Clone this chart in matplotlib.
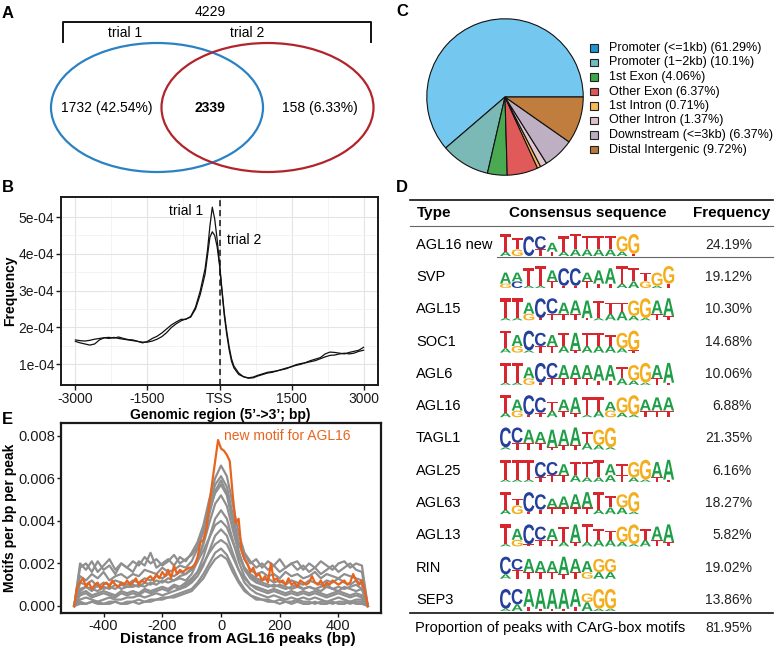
import numpy as np
import matplotlib
matplotlib.use('Agg')
import matplotlib.pyplot as plt
from matplotlib.patches import Ellipse, Rectangle, PathPatch
from matplotlib.textpath import TextPath
from matplotlib.font_manager import FontProperties
from matplotlib.transforms import Affine2D

plt.rcParams['font.family'] = ['Liberation Sans', 'DejaVu Sans']

# ---------------- data ----------------
# A: venn
venn_total = '4229'
venn_sets = ['trial 1', 'trial 2']
venn_counts = ['1732 (42.54%)', '2339', '158 (6.33%)']

# B: peak frequency around TSS (unit 1e-4)
tss_bp = list(range(-3000, -399, 100)) + list(range(-300, 301, 50)) + list(range(400, 3001, 100))
trial1 = [1.62, 1.58, 1.55, 1.52, 1.55, 1.66, 1.72, 1.73, 1.71, 1.74, 1.70, 1.67, 1.66, 1.62,
          1.58, 1.62, 1.70, 1.76, 1.85, 1.96, 2.07, 2.15, 2.22, 2.22, 2.30, 2.55, 3.00,
          3.60, 4.10, 4.75, 5.27, 4.95, 4.40, 3.75, 3.05, 2.40, 1.90, 1.48, 1.15, 0.95,
          0.76, 0.66, 0.62, 0.63, 0.68, 0.72, 0.76, 0.78, 0.82, 0.85, 0.88, 0.94, 0.97, 1.00,
          1.05, 1.10, 1.14, 1.18, 1.28, 1.33, 1.32, 1.30, 1.28, 1.32, 1.35, 1.38, 1.46]
trial2 = [1.66, 1.64, 1.63, 1.65, 1.68, 1.70, 1.72, 1.70, 1.73, 1.70, 1.68, 1.66, 1.64, 1.62,
          1.60, 1.60, 1.63, 1.68, 1.75, 1.86, 2.00, 2.10, 2.18, 2.23, 2.28, 2.50, 2.90,
          3.45, 3.95, 4.45, 4.60, 4.50, 4.20, 3.70, 3.00, 2.32, 1.82, 1.40, 1.08, 0.90,
          0.72, 0.66, 0.63, 0.65, 0.70, 0.74, 0.78, 0.80, 0.82, 0.86, 0.90, 0.93, 0.99, 1.02,
          1.04, 1.07, 1.10, 1.15, 1.20, 1.24, 1.25, 1.28, 1.30, 1.28, 1.30, 1.35, 1.38]

# C: genomic annotation
pie_labels = ['Promoter (<=1kb) (61.29%)', 'Promoter (1\u22122kb) (10.1%)', '1st Exon (4.06%)',
              'Other Exon (6.37%)', '1st Intron (0.71%)', 'Other Intron (1.37%)',
              'Downstream (<=3kb) (6.37%)', 'Distal Intergenic (9.72%)']
pie_vals = [61.29, 10.1, 4.06, 6.37, 0.71, 1.37, 6.37, 9.72]
pie_colors = ['#74c8ef', '#7ab9b6', '#4aaa52', '#e05a5a', '#f5b84e', '#e2c6d0', '#beb0c2', '#c07d3e']
legend_colors = ['#1f93d3', '#73bcbc', '#3ea64a', '#e25656', '#f5ba58', '#dcc1cb', '#b9adbf', '#b8773b']

# D: motif table
motif_names = ['AGL16 new', 'SVP', 'AGL15', 'SOC1', 'AGL6', 'AGL16', 'TAGL1',
               'AGL25', 'AGL63', 'AGL13', 'RIN', 'SEP3']
motif_freq = ['24.19%', '19.12%', '10.30%', '14.68%', '10.06%', '6.88%', '21.35%',
              '6.16%', '18.27%', '5.82%', '19.02%', '13.86%']
carg_total = '81.95%'
logo_top = ['TTCCATTTTTGG', 'AATTACCAAATTTGG', 'TTACCAAATTTGGAA', 'TACCATATTTGG',
            'TTACCAAAAATGGAA', 'TACCTAATTAGGAAA', 'CCAAAAATGG', 'TTTCCATTTATGGAA',
            'TTCCAAAATTGG', 'TACCATATTTGGTAA', 'CCAAAAAAGG', 'CCAAAAAGGG']
logo_top_h = [[8, 5, 9, 6, 4, 7, 7, 6, 6, 6, 7, 9],
              [5, 4, 8, 9, 5, 8, 8, 4, 6, 7, 8, 6, 4, 6, 8],
              [9, 9, 5, 9, 7, 5, 6, 8, 8, 5, 4, 7, 9, 6, 8],
              [8, 5, 9, 6, 5, 6, 8, 6, 6, 5, 7, 9],
              [9, 9, 5, 9, 7, 6, 6, 6, 7, 7, 5, 7, 9, 6, 9],
              [8, 5, 9, 7, 4, 5, 7, 8, 6, 4, 7, 9, 5, 6, 6],
              [9, 7, 6, 5, 8, 7, 8, 5, 7, 9],
              [9, 9, 9, 7, 6, 5, 6, 7, 8, 5, 5, 7, 9, 7, 9],
              [8, 3, 9, 7, 4, 5, 6, 7, 8, 5, 6, 9],
              [9, 5, 9, 6, 5, 7, 8, 8, 5, 4, 7, 9, 5, 6, 8],
              [8, 5, 6, 5, 5, 8, 6, 5, 6, 6],
              [9, 7, 8, 9, 9, 9, 8, 4, 9, 9]]
logo_low = ['AG.TTAAAAAAT', 'GCAATTTTTTAAGAT', 'AAGTTTTTAAAAATT', 'AGATTATAAAAT',
            'AAGTTTTTTTAAATT', 'AGTTATTAAGAATTT', 'ATTTTTTAAA', 'AAATTTAAAATAATT',
            'AGTTTTTTAAAA', 'AGTTTATAAAAAATT', 'ATTTTTTGAA', 'AATTTTTAAA']
logo_low_h = [[2, 3, 0, 3, 2, 2, 3, 3, 3, 3, 2, 1],
              [2, 3, 1, 1, 3, 1, 1, 3, 2, 2, 2, 3, 3, 1, 2],
              [1, 1, 3, 1, 3, 3, 3, 1, 1, 3, 4, 2, 1, 3, 2],
              [2, 3, 1, 3, 3, 3, 1, 3, 3, 3, 2, 1],
              [1, 1, 3, 1, 3, 3, 3, 3, 2, 2, 3, 2, 1, 3, 1],
              [2, 3, 1, 2, 3, 3, 2, 1, 3, 3, 2, 1, 3, 3, 3],
              [1, 3, 3, 3, 1, 2, 2, 3, 2, 1],
              [1, 1, 1, 2, 3, 3, 3, 2, 2, 3, 3, 2, 1, 2, 1],
              [2, 4, 1, 2, 3, 3, 3, 3, 2, 3, 3, 1],
              [1, 3, 1, 3, 3, 2, 2, 2, 3, 3, 2, 1, 3, 3, 2],
              [2, 4, 3, 3, 3, 2, 3, 3, 3, 3],
              [1, 3, 2, 1, 1, 1, 2, 4, 1, 1]]

# E: motif density around AGL16 peaks (unit 1e-4), gray = known motifs
grey_bp = np.arange(-500, 501, 20)
grey_curves = [
    [0, 18, 20, 16, 21, 17, 19, 15, 20, 18, 16, 21, 19, 25, 18, 20, 22, 19, 23, 21,
     25, 30, 38, 50, 60, 66, 61, 48, 34, 25, 21, 18, 20, 17, 19, 16, 18, 20, 17, 19,
     16, 18, 15, 17, 19, 16, 18, 20, 17, 16, 0],
    [0, 14, 12, 15, 13, 16, 12, 14, 15, 13, 15, 14, 17, 16, 15, 18, 16, 17, 19, 18,
     21, 27, 35, 47, 57, 61, 56, 43, 30, 22, 17, 15, 16, 14, 15, 13, 16, 14, 15, 13,
     14, 16, 13, 15, 14, 13, 15, 14, 13, 12, 0],
    [0, 8, 9, 7, 10, 8, 9, 8, 10, 9, 9, 10, 9, 11, 10, 12, 11, 12, 13, 12,
     15, 21, 30, 43, 54, 59, 53, 40, 26, 17, 13, 11, 10, 9, 10, 9, 8, 9, 10, 8,
     9, 8, 9, 10, 8, 9, 8, 9, 10, 8, 0],
    [0, 20, 17, 21, 16, 19, 22, 17, 20, 18, 21, 19, 23, 20, 22, 19, 21, 24, 20, 22,
     24, 28, 35, 45, 53, 57, 52, 40, 29, 24, 20, 22, 18, 21, 19, 22, 18, 20, 21, 17,
     20, 18, 21, 19, 17, 20, 21, 18, 20, 19, 0],
    [0, 7, 9, 8, 7, 9, 8, 10, 8, 9, 10, 9, 11, 10, 12, 11, 13, 12, 14, 15,
     17, 22, 29, 39, 48, 52, 47, 36, 25, 18, 14, 12, 11, 10, 9, 10, 9, 8, 9, 8,
     9, 8, 7, 9, 8, 7, 9, 8, 7, 8, 0],
    [0, 5, 6, 4, 5, 6, 5, 4, 6, 5, 6, 5, 7, 6, 7, 8, 7, 9, 8, 10,
     12, 16, 23, 32, 41, 45, 41, 31, 21, 14, 10, 8, 7, 6, 7, 6, 5, 6, 5, 6,
     5, 6, 5, 4, 5, 6, 5, 4, 5, 4, 0],
    [0, 11, 10, 12, 9, 11, 10, 12, 11, 10, 12, 11, 13, 12, 14, 13, 15, 14, 16, 15,
     18, 21, 26, 32, 38, 40, 37, 30, 23, 18, 15, 13, 12, 13, 11, 12, 10, 12, 11, 10,
     12, 11, 10, 12, 11, 13, 11, 10, 12, 10, 0],
    [0, 3, 4, 3, 2, 3, 4, 3, 3, 4, 4, 5, 4, 5, 6, 5, 6, 7, 8, 9,
     11, 14, 19, 26, 33, 36, 33, 25, 17, 11, 8, 6, 5, 4, 5, 4, 3, 4, 3, 4,
     3, 4, 3, 2, 3, 4, 3, 2, 3, 3, 0],
    [0, 6, 7, 5, 6, 7, 6, 5, 7, 6, 7, 6, 8, 7, 8, 9, 8, 10, 9, 11,
     13, 16, 20, 25, 29, 31, 29, 23, 17, 13, 10, 9, 8, 7, 8, 7, 6, 7, 6, 7,
     6, 7, 6, 5, 6, 7, 6, 5, 6, 5, 0],
    [0, 2, 1, 2, 2, 1, 2, 2, 1, 2, 2, 3, 2, 3, 3, 4, 4, 5, 6, 7,
     8, 11, 15, 20, 25, 27, 24, 18, 12, 8, 5, 4, 3, 3, 2, 3, 2, 2, 3, 2,
     2, 1, 2, 2, 1, 2, 2, 1, 2, 2, 0],
    [0, 1, 1, 2, 1, 1, 1, 2, 1, 1, 2, 1, 2, 2, 3, 3, 4, 4, 5, 6,
     7, 10, 13, 18, 22, 24, 22, 16, 11, 7, 5, 3, 3, 2, 2, 1, 2, 1, 2, 1,
     1, 2, 1, 1, 2, 1, 1, 2, 1, 1, 0],
]
new_bp = np.arange(-500, 501, 10)
new_motif = [0, 9, 11, 13, 9, 11, 8, 10, 11, 8,
             10, 11, 9, 12, 10, 9, 11, 10, 12, 10,
             11, 13, 10, 12, 11, 13, 14, 12, 15, 13,
             16, 14, 17, 13, 19, 15, 17, 16, 17, 18,
             18, 19, 23, 30, 31, 36, 48, 58, 68, 78,
             74, 73, 71, 68, 52, 39, 41, 26, 22, 20,
             16, 18, 14, 15, 12, 14, 11, 20, 12, 13,
             11, 12, 10, 13, 10, 11, 9, 12, 11, 10,
             11, 14, 11, 10, 12, 9, 11, 10, 12, 11,
             10, 11, 12, 10, 11, 15, 12, 10, 12, 7,
             0]

# ---------------- figure ----------------
W, H = 778, 646
fig = plt.figure(figsize=(W / 100, H / 100), dpi=100)


def px_axes(l, t, r, b):
    return fig.add_axes([l / W, 1 - b / H, (r - l) / W, (b - t) / H])


def frame(ax, lw=1.4):
    for s in ax.spines.values():
        s.set_linewidth(lw)
        s.set_color('#1a1a1a')


# B
axb = px_axes(61, 197, 378, 385)
axb.plot(tss_bp, np.array(trial2) * 1e-4, color='#111111', lw=0.9)
axb.plot(tss_bp, np.array(trial1) * 1e-4, color='#111111', lw=0.9)
axb.axvline(0, color='#111111', lw=1.1, ls=(0, (4, 2.5)))
axb.set_xlim(-3300, 3300)
axb.set_ylim(0.435e-4, 5.546e-4)
axb.set_xticks([-3000, -1500, 0, 1500, 3000])
axb.set_xticklabels(['-3000', '-1500', 'TSS', '1500', '3000'])
axb.set_yticks([1e-4, 2e-4, 3e-4, 4e-4, 5e-4])
axb.set_yticklabels(['1e-04', '2e-04', '3e-04', '4e-04', '5e-04'])
axb.set_xticks([-2250, -750, 750, 2250], minor=True)
axb.set_yticks([1.5e-4, 2.5e-4, 3.5e-4, 4.5e-4], minor=True)
axb.grid(which='major', color='#e4e4e4', lw=0.8)
axb.grid(which='minor', color='#f1f1f1', lw=0.6)
axb.set_axisbelow(True)
axb.tick_params(which='major', length=3.5, width=1, labelsize=10, pad=1.5, colors='#1a1a1a')
axb.tick_params(which='minor', length=0)
frame(axb)
axb.text(-690, 5.16e-4, 'trial 1', ha='center', va='center', fontsize=10)
axb.text(520, 4.37e-4, 'trial 2', ha='center', va='center', fontsize=10)

# E
axe = px_axes(61, 423, 381, 613)
for g in grey_curves:
    axe.plot(grey_bp, np.array(g) * 1e-4, color='#8f8f8f', lw=1.6)
axe.plot(new_bp, np.array(new_motif) * 1e-4, color='#e8641e', lw=1.6)
axe.set_xlim(-545, 545)
axe.set_ylim(-0.00033, 0.0086)
axe.set_xticks([-400, -200, 0, 200, 400])
axe.set_xticklabels(['-400', '-200', '0', '200', '400'])
axe.set_yticks([0, 0.002, 0.004, 0.006, 0.008])
axe.set_yticklabels(['0.000', '0.002', '0.004', '0.006', '0.008'])
axe.tick_params(length=3, width=1, labelsize=10.5, pad=1, colors='#1a1a1a')
frame(axe, 1.6)
axe.text(10, 0.0080, 'new motif for AGL16', color='#e8641e', fontsize=10, ha='left', va='center')

# C pie
axp = px_axes(426, 18, 584, 176)
axp.pie(pie_vals, colors=pie_colors, startangle=0, counterclock=True,
        wedgeprops=dict(edgecolor='#111111', linewidth=0.8))
axp.set_xlim(-1.01, 1.01)
axp.set_ylim(-1.01, 1.01)

# overlay in pixel coordinates
ov = fig.add_axes([0, 0, 1, 1])
ov.set_xlim(0, W)
ov.set_ylim(H, 0)
ov.axis('off')

# panel letters
for lab, (x, y) in zip('ABCDE', [(2, 13), (2, 187), (396, 12), (396, 187), (2, 420)]):
    ov.text(x, y, lab, fontsize=12, fontweight='bold', ha='left', va='center')

# A venn
ov.add_patch(Ellipse((157, 107.5), 212, 129, fill=False, ec='#2a82c4', lw=1.6))
ov.add_patch(Ellipse((267.5, 107.5), 212, 129, fill=False, ec='#b3232b', lw=1.6))
ov.plot([63, 63, 371, 371], [42, 22, 22, 42], color='#111111', lw=1.4)
ov.text(210, 12, venn_total, fontsize=10, ha='center', va='center')
ov.text(125, 33, venn_sets[0], fontsize=10, ha='center', va='center')
ov.text(247, 33, venn_sets[1], fontsize=10, ha='center', va='center')
ov.text(107, 108, venn_counts[0], fontsize=10, ha='center', va='center')
ov.text(210, 108, venn_counts[1], fontsize=10, ha='center', va='center', fontweight='bold')
ov.text(320, 108, venn_counts[2], fontsize=10, ha='center', va='center')

# C legend
for i, (lab, col) in enumerate(zip(pie_labels, legend_colors)):
    y = 48 + 14.5 * i
    ov.add_patch(Rectangle((590, y - 3.8), 8, 7.6, fc=col, ec='#222222', lw=0.8))
    ov.text(609, y, lab, fontsize=9.0, ha='left', va='center')

# B / E axis titles
ov.text(220, 415, 'Genomic region (5\u2019->3\u2019; bp)', fontsize=10, fontweight='bold', ha='center', va='center')
ov.text(10, 291, 'Frequency', fontsize=10, fontweight='bold', rotation=90, ha='center', va='center')
ov.text(238, 639, 'Distance from AGL16 peaks (bp)', fontsize=11, fontweight='bold', ha='center', va='center')
ov.text(10, 518, 'Motifs per bp per peak', fontsize=10, fontweight='bold', rotation=90, ha='center', va='center')

# D table
logo_font = FontProperties(family='Liberation Sans', weight='bold')
logo_colors = {'A': '#1f9e48', 'C': '#25409b', 'G': '#f4ae1b', 'T': '#d7262d'}


def draw_letter(ch, x0, ybot, w, h):
    if h <= 0 or ch == '.':
        return
    tp = TextPath((0, 0), ch, size=10, prop=logo_font)
    ext = tp.get_extents()
    tr = Affine2D().translate(-ext.x0, -ext.y0).scale(w / ext.width, -h / ext.height).translate(x0, ybot)
    ov.add_patch(PathPatch(tr.transform_path(tp), fc=logo_colors[ch], ec='none', lw=0))


ov.plot([410, 773], [200, 200], color='#111111', lw=1.2)
ov.plot([410, 773], [226, 226], color='#666666', lw=0.8)
ov.plot([497, 773], [257, 257], color='#666666', lw=0.8)
ov.plot([410, 773], [613, 613], color='#111111', lw=1.2)
ov.text(417, 213, 'Type', fontsize=11, fontweight='bold', ha='left', va='center')
ov.text(588, 213, 'Consensus sequence', fontsize=11, fontweight='bold', ha='center', va='center')
ov.text(732, 213, 'Frequency', fontsize=11, fontweight='bold', ha='center', va='center')

row_y = [245] + [277 + 32.3 * i for i in range(11)]
full_h = 22.0
step = 11.65
for i, name in enumerate(motif_names):
    y = row_y[i]
    ov.text(416, y, name, fontsize=10.5, ha='left', va='center')
    ov.text(752, y, motif_freq[i], fontsize=10, ha='right', va='center', color='#222222')
    base = y + 11
    for j, ch in enumerate(logo_top[i]):
        x0 = 500 + j * step
        lh = logo_low_h[i][j] / 10 * full_h
        draw_letter(logo_low[i][j], x0, base, step - 0.6, lh)
        draw_letter(ch, x0, base - lh, step - 0.6, logo_top_h[i][j] / 10 * full_h)

ov.text(415, 628, 'Proportion of peaks with CArG-box motifs', fontsize=10.5, ha='left', va='center')
ov.text(752, 628, carg_total, fontsize=10, ha='right', va='center', color='#222222')

fig.savefig('out.png', dpi=100)
